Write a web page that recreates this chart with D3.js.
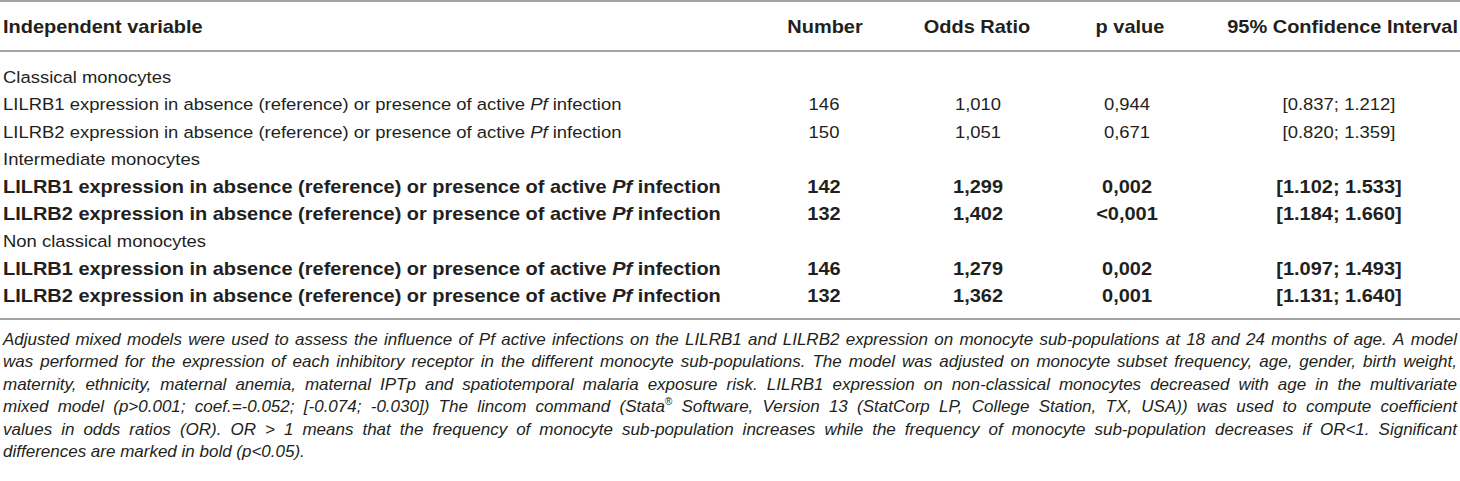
<!DOCTYPE html>
<html>
<head>
<meta charset="utf-8">
<script src="https://cdn.jsdelivr.net/npm/d3@7"></script>
<style>
  html, body { margin: 0; padding: 0; background: #fff; }
  text { font-family: "Liberation Sans", Arial, sans-serif; fill: #231f20; }
</style>
</head>
<body>
<div id="viz"></div>
<script>
const headers = ['Independent variable', 'Number', 'Odds Ratio', 'p value', '95% Confidence Interval'];
const groups = ['Classical monocytes', 'Intermediate monocytes', 'Non classical monocytes'];
const receptors = ['LILRB1', 'LILRB2'];
const numbers = [146, 150, 142, 132, 146, 132];
const oddsRatios = ['1,010', '1,051', '1,299', '1,402', '1,279', '1,362'];
const pValues = ['0,944', '0,671', '0,002', '<0,001', '0,002', '0,001'];
const ciLow = ['0.837', '0.820', '1.102', '1.184', '1.097', '1.131'];
const ciHigh = ['1.212', '1.359', '1.533', '1.660', '1.493', '1.640'];
const significant = [false, false, true, true, true, true];

const footnote = [
  'Adjusted mixed models were used to assess the influence of Pf active infections on the LILRB1 and LILRB2 expression on monocyte sub-populations at 18 and 24 months of age. A model',
  'was performed for the expression of each inhibitory receptor in the different monocyte sub-populations. The model was adjusted on monocyte subset frequency, age, gender, birth weight,',
  'maternity, ethnicity, maternal anemia, maternal IPTp and spatiotemporal malaria exposure risk. LILRB1 expression on non-classical monocytes decreased with age in the multivariate',
  'mixed model (p>0.001; coef.=-0.052; [-0.074; -0.030]) The lincom command (Stata\u00AE Software, Version 13 (StatCorp LP, College Station, TX, USA)) was used to compute coefficient',
  'values in odds ratios (OR). OR > 1 means that the frequency of monocyte sub-population increases while the frequency of monocyte sub-population decreases if OR<1. Significant',
  'differences are marked in bold (p<0.05).'
];

const width = 1460;
const height = 481;

// the original face is wider than Liberation Sans, so stretch text a bit
const regSize = 17, regStretch = 1.086;
const boldSize = 18, boldStretch = 1.11;

function place(sel, x, sx) {
  sel.attr('x', 0).attr('transform', `translate(${x} 0) scale(${sx} 1)`);
}

// build row list: group heading followed by its two receptor rows
const rows = [];
groups.forEach((g, gi) => {
  rows.push({ type: 'group', label: g });
  receptors.forEach((r, ri) => {
    const i = gi * 2 + ri;
    rows.push({ type: 'data', label: r, i: i, bold: significant[i] });
  });
});

const svg = d3.select('#viz')
  .append('svg')
  .attr('width', width)
  .attr('height', height);

const y = d3.scaleLinear().domain([0, rows.length - 1]).range([77, 296]);

// rules
const rules = [1, 51, 319];
svg.selectAll('line.rule')
  .data(rules)
  .join('line')
  .attr('class', 'rule')
  .attr('x1', 0)
  .attr('x2', width)
  .attr('y1', d => d)
  .attr('y2', d => d)
  .attr('stroke', '#a3a3a3')
  .attr('stroke-width', 2);

// header
const headerX = [3, 825, 977, 1130, 1458];
const headerAnchor = ['start', 'middle', 'middle', 'middle', 'end'];
svg.append('g')
  .attr('transform', 'translate(0 33)')
  .selectAll('text')
  .data(headers)
  .join('text')
  .attr('text-anchor', (d, i) => headerAnchor[i])
  .attr('font-size', boldSize)
  .attr('font-weight', 'bold')
  .text(d => d)
  .each(function (d, i) { place(d3.select(this), headerX[i], boldStretch); });

// body rows
const rowG = svg.selectAll('g.row')
  .data(rows)
  .join('g')
  .attr('class', 'row')
  .attr('transform', (d, i) => `translate(0 ${y(i)})`)
  .attr('font-weight', d => d.bold ? 'bold' : 'normal')
  .attr('font-size', d => d.bold ? boldSize : regSize);

const sxOf = d => d.bold ? boldStretch : regStretch;

rowG.append('text')
  .attr('dy', '0.36em')
  .each(function (d) {
    const t = d3.select(this);
    place(t, 3, sxOf(d));
    if (d.type === 'group') {
      t.text(d.label);
      return;
    }
    t.append('tspan').text(d.label + ' expression in absence (reference) or presence of active ');
    t.append('tspan').attr('font-style', 'italic').text('Pf');
    t.append('tspan').text(' infection');
  });

const dataRows = rowG.filter(d => d.type === 'data');

const columns = [
  { x: 824, value: d => numbers[d.i] },
  { x: 978, value: d => oddsRatios[d.i] },
  { x: 1127, value: d => pValues[d.i] },
  { x: 1339, value: d => `[${ciLow[d.i]}; ${ciHigh[d.i]}]` }
];

columns.forEach(col => {
  dataRows.append('text')
    .attr('dy', '0.36em')
    .attr('text-anchor', 'middle')
    .text(col.value)
    .each(function (d) { place(d3.select(this), col.x, sxOf(d)); });
});

// footnote, justified word by word
const fx0 = 3;
const fx1 = 1457;
const noteG = svg.append('g')
  .attr('font-size', 17)
  .attr('font-style', 'italic');

footnote.forEach((line, li) => {
  const ly = 345 + li * 22.4;
  const words = line.split(' ');
  const lg = noteG.append('g');
  const nodes = words.map(w => {
    const t = lg.append('text').attr('y', ly).attr('fill', '#2b2b2b');
    if (w.includes('\u00AE')) {
      const parts = w.split('\u00AE');
      t.append('tspan').text(parts[0]);
      t.append('tspan').attr('font-size', 10).attr('dy', -7).text('\u00AE');
    } else {
      t.text(w);
    }
    return t;
  });
  const widths = nodes.map(n => n.node().getComputedTextLength());
  const total = d3.sum(widths);
  const last = li === footnote.length - 1;
  let gap = last ? 4.7 : (fx1 - fx0 - total) / (words.length - 1);
  let sx = 1;
  if (gap < 2.5) {
    // too long for the line: squeeze horizontally
    gap = 2.5;
    sx = (fx1 - fx0) / (total + gap * (words.length - 1));
  }
  let x = 0;
  nodes.forEach((n, i) => {
    n.attr('x', x);
    x += widths[i] + gap;
  });
  lg.attr('transform', `translate(${fx0} 0) scale(${sx} 1)`);
});
</script>
</body>
</html>
